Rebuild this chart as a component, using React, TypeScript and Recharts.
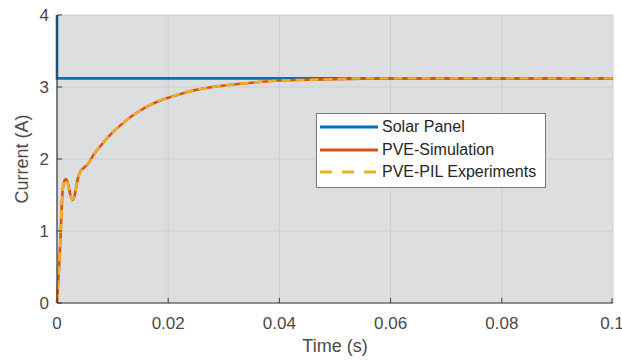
import React from "react";
import { LineChart, Line, XAxis, YAxis, CartesianGrid, Legend } from "recharts";

const timeS = [0, 0.0003, 0.0006, 0.0009, 0.0012, 0.0016, 0.002, 0.0024, 0.0028, 0.0032, 0.0036, 0.0041, 0.0047, 0.0053, 0.0059, 0.0065, 0.0075, 0.0089, 0.01, 0.0113, 0.013, 0.0149, 0.017, 0.0185, 0.02, 0.0225, 0.025, 0.03, 0.035, 0.04, 0.045, 0.05, 0.055, 0.06, 0.07, 0.08, 0.09, 0.1];
const simulation = [0, 0.4, 0.85, 1.42, 1.67, 1.72, 1.65, 1.5, 1.43, 1.5, 1.68, 1.81, 1.87, 1.91, 1.97, 2.05, 2.15, 2.28, 2.37, 2.46, 2.57, 2.67, 2.76, 2.81, 2.85, 2.91, 2.96, 3.02, 3.06, 3.09, 3.1, 3.11, 3.115, 3.12, 3.12, 3.12, 3.12, 3.12];
const pilExperiment = [0, 0.38, 0.83, 1.4, 1.66, 1.71, 1.64, 1.49, 1.44, 1.51, 1.67, 1.8, 1.87, 1.92, 1.97, 2.05, 2.15, 2.28, 2.37, 2.46, 2.57, 2.67, 2.76, 2.81, 2.85, 2.91, 2.96, 3.02, 3.06, 3.09, 3.1, 3.11, 3.12, 3.12, 3.12, 3.12, 3.12, 3.12];
const solarTime = [0, 0, 0.1];
const solarCurrent = [4, 3.12, 3.12];
const xTicks = [0, 0.02, 0.04, 0.06, 0.08, 0.1];
const yTicks = [0, 1, 2, 3, 4];
const xTickLabels = ["0", "0.02", "0.04", "0.06", "0.08", "0.1"];

const pveData = timeS.map((t, i) => ({ t, sim: simulation[i], pil: pilExperiment[i] }));
const solarData = solarTime.map((t, i) => ({ t, solar: solarCurrent[i] }));

const FONT = "'Liberation Sans', Arial, Helvetica, sans-serif";
const AX = "#3a3a3a";
const TXT = "#4a4a4a";

const BottomTick = (props: any) => {
  const { x, y, payload } = props;
  const idx = xTicks.indexOf(payload.value);
  const label = idx >= 0 ? xTickLabels[idx] : String(payload.value);
  return (
    <g>
      <line x1={x} y1={y} x2={x} y2={y - 5} stroke={AX} strokeWidth={1} />
      <text x={x} y={y + 26} textAnchor="middle" fontSize={17} fill={TXT} fontFamily={FONT}>{label}</text>
    </g>
  );
};
const TopTick = (props: any) => {
  const { x, y } = props;
  return <line x1={x} y1={y} x2={x} y2={y + 5} stroke={AX} strokeWidth={1} />;
};
const LeftTick = (props: any) => {
  const { x, y, payload } = props;
  return (
    <g>
      <line x1={x} y1={y} x2={x + 5} y2={y} stroke={AX} strokeWidth={1} />
      <text x={x - 8} y={y + 6} textAnchor="end" fontSize={17} fill={TXT} fontFamily={FONT}>{payload.value}</text>
    </g>
  );
};
const RightTick = (props: any) => {
  const { x, y } = props;
  return <line x1={x} y1={y} x2={x - 5} y2={y} stroke={AX} strokeWidth={1} />;
};

const legendItems = [
  { name: "Solar Panel", color: "#0072BD", dash: undefined },
  { name: "PVE-Simulation", color: "#D95319", dash: undefined },
  { name: "PVE-PIL Experiments", color: "#EDB120", dash: "12 10" },
];

const LegendBox = () => (
  <div style={{ background: "#fff", border: "1px solid #7a7a7a", padding: "2px 6px 3px 3px", fontFamily: FONT, fontSize: 16, color: "#262626" }}>
    {legendItems.map((it) => (
      <div key={it.name} style={{ display: "flex", alignItems: "center", height: 22.5 }}>
        <svg width={58} height={10} style={{ marginRight: 4 }}>
          <line x1={0} y1={5} x2={58} y2={5} stroke={it.color} strokeWidth={3} strokeDasharray={it.dash} />
        </svg>
        <span>{it.name}</span>
      </div>
    ))}
  </div>
);

export default function App() {
  return (
    <div style={{ position: "absolute", left: 0, top: 0, width: 622, height: 360, background: "#fff" }}>
      <LineChart width={622} height={360} margin={{ top: 15, right: 9, left: 0, bottom: 0 }}>
        <CartesianGrid stroke="#cdced1" fill="#dddee0" strokeWidth={1} xAxisId="bottom" yAxisId="left" />
        <XAxis xAxisId="bottom" dataKey="t" type="number" domain={[0, 0.1]} ticks={xTicks}
          height={57} tickSize={0} tickMargin={0} tickLine={false} axisLine={{ stroke: AX, strokeWidth: 1.2 }} tick={<BottomTick />}
          label={{ value: "Time (s)", position: "insideBottom", offset: 8, fontSize: 18, fill: TXT, fontFamily: FONT }} />
        <XAxis xAxisId="top" orientation="top" dataKey="t" type="number" domain={[0, 0.1]} ticks={xTicks}
          height={0} tickSize={0} tickMargin={0} tickLine={false} axisLine={{ stroke: AX, strokeWidth: 1.2 }} tick={<TopTick />} />
        <YAxis yAxisId="left" type="number" domain={[0, 4]} ticks={yTicks} width={57}
          tickSize={0} tickMargin={0} tickLine={false} axisLine={{ stroke: AX, strokeWidth: 1.2 }} tick={<LeftTick />}
          label={{ value: "Current (A)", angle: -90, position: "insideLeft", offset: 22, fontSize: 18, fill: TXT, fontFamily: FONT, style: { textAnchor: "middle" } }} />
        <YAxis yAxisId="right" orientation="right" type="number" domain={[0, 4]} ticks={yTicks} width={0}
          tickSize={0} tickMargin={0} tickLine={false} axisLine={{ stroke: AX, strokeWidth: 1.2 }} tick={<RightTick />} />
        <Line xAxisId="bottom" yAxisId="left" data={solarData} dataKey="solar" name="Solar Panel" type="linear" stroke="#0072BD" strokeWidth={2.6} dot={false} isAnimationActive={false} />
        <Line xAxisId="bottom" yAxisId="left" data={pveData} dataKey="sim" name="PVE-Simulation" type="monotone" stroke="#D95319" strokeWidth={2.6} dot={false} isAnimationActive={false} />
        <Line xAxisId="bottom" yAxisId="left" data={pveData} dataKey="pil" name="PVE-PIL Experiments" type="monotone" stroke="#EDB120" strokeWidth={2.4} strokeDasharray="9 5" dot={false} isAnimationActive={false} />
        <Legend layout="vertical" align="center" verticalAlign="middle" content={<LegendBox />}
          wrapperStyle={{ left: 316, top: 113, width: 230, height: "auto" }} />
      </LineChart>
    </div>
  );
}
